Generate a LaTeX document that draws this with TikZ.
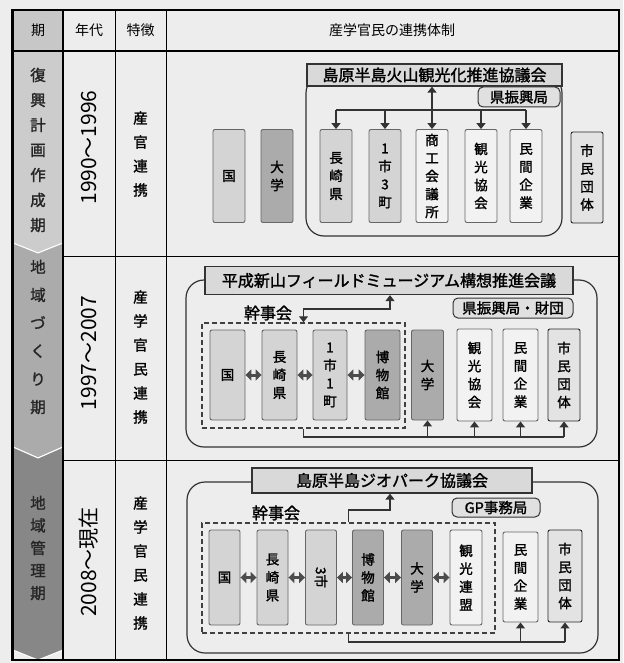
\documentclass[tikz,border=0pt]{standalone}
\usepackage{fontspec}
\newfontfamily\jp{Noto Sans CJK JP}
\newfontfamily\jpb{Noto Sans CJK JP}[FakeBold=1.6]
\usetikzlibrary{arrows.meta,calc}
\begin{document}
\begin{tikzpicture}[x=1pt,y=-1pt,
  box/.style={draw=black!60, line width=0.9pt, rounded corners=2pt, minimum width=32pt, minimum height=93pt, inner sep=0pt, align=center, font=\jpb\fontsize{13.5}{18}\selectfont},
  lt/.style={box, fill=black!17},
  dk/.style={box, fill=black!33},
  wh/.style={box, fill=black!5},
  cv/.style={box, fill=black!11, draw=black!85},
  ttl/.style={draw=black!80, line width=1.3pt, fill=black!15, inner sep=0pt, font=\jpb\fontsize{16}{16}\selectfont},
  sub/.style={draw=black!80, line width=1pt, fill=black!12, rounded corners=5pt, inner sep=0pt, font=\jpb\fontsize{14.5}{14.5}\selectfont},
  frm/.style={draw=black!80, line width=1.2pt, rounded corners=18pt},
  dsh/.style={draw=black!75, line width=1.5pt, dash pattern=on 5pt off 3pt, inner sep=0pt},
  ln/.style={line width=1.4pt, draw=black!80},
  arr/.style={-{Triangle[length=6pt,width=9pt]}, line width=1.4pt, draw=black!80},
  arr2/.style={{Triangle[length=6pt,width=9pt]}-{Triangle[length=6pt,width=9pt]}, line width=1.4pt, draw=black!80},
  dbl/.style={{Triangle[length=6pt,width=11pt]}-{Triangle[length=6pt,width=11pt]}, line width=3pt, draw=black!70},
  hd/.style={font=\jp\fontsize{14}{14}\selectfont},
  kan/.style={font=\jpb\fontsize{16}{16}\selectfont},
  per/.style={align=center, text=black!85},
  feat/.style={align=center, font=\jpb\fontsize{14.5}{24}\selectfont},
  yr/.style={rotate=90, font=\jp\fontsize{21}{21}\selectfont},
  chev/.style={draw=white, line width=1pt}
]
\useasboundingbox (0,0) rectangle (623,663);
\fill[black!7] (0,0) rectangle (623,663);

% period column chevrons
\fill[black!22] (13,10) rectangle (63,51);
\filldraw[chev, fill=black!20] (13,51) -- (63,51) -- (63,243) -- (38,253) -- (13,243) -- cycle;
\filldraw[chev, fill=black!33] (13,243) -- (38,253) -- (63,243) -- (63,447) -- (38,458) -- (13,447) -- cycle;
\filldraw[chev, fill=black!47] (13,447) -- (38,458) -- (63,447) -- (63,650) -- (38,660) -- (13,650) -- cycle;

% table lines
\draw[line width=1.5pt] (12,10) rectangle (619,660);
\draw[line width=2pt] (13,10) -- (13,660) (63,10) -- (63,660);
\draw[line width=0.8pt] (115,10) -- (115,660) (166,10) -- (166,660);
\draw[line width=1.3pt] (12,51) -- (619,51);
\draw[line width=1pt] (63,256) -- (619,256) (63,460) -- (619,460);

% header
\node[hd] (h1) at (38,30) {期};
\node[hd] (h2) at (89,30) {年代};
\node[hd] (h3) at (140.5,30) {特徴};
\node[hd] (h4) at (392,30) {産学官民の連携体制};

% period texts
\node[per, font=\jpb\fontsize{15.5}{25}\selectfont] (p1) at (38,150) {復\\興\\計\\画\\作\\成\\期};
\node[per, font=\jpb\fontsize{15.5}{28}\selectfont] (p2) at (38,337) {地\\域\\づ\\く\\り\\期};
\node[per, font=\jpb\fontsize{15.5}{22.5}\selectfont] (p3) at (38,548) {地\\域\\管\\理\\期};

% years
\node[yr] (y1) at (89,147.5) {1990〜1996};
\node[yr] (y2) at (89,353) {1997〜2007};
\node[yr] (y3) at (89,562) {2008〜現在};

% features
\node[feat] (f1) at (140.5,154) {産\\官\\連\\携};
\node[feat] (f2) at (140.5,357) {産\\学\\官\\民\\連\\携};
\node[feat] (f3) at (140.5,563) {産\\学\\官\\民\\連\\携};

% ---------- section 1 ----------
\draw[frm] (306,75) rectangle (562,236);
\node[ttl, minimum width=255pt, minimum height=22pt] (t1) at (434.5,75) {島原半島火山観光化推進協議会};
\node[sub, minimum width=82pt, minimum height=20pt] (g1) at (519,97) {県振興局};
\node[lt] (a1) at (229,176) {国};
\node[dk] (a2) at (277,176) {大\\学};
\node[lt] (a3) at (336,176) {長\\崎\\県};
\node[lt] (a4) at (385,176) {1\\市\\3\\町};
\node[wh] (a5) at (432,176) {商\\工\\会\\議\\所};
\node[wh] (a6) at (481,176) {観\\光\\協\\会};
\node[wh] (a7) at (526,176) {民\\間\\企\\業};
\node[cv, minimum height=91pt] (a8) at (587,177.5) {市\\民\\団\\体};
\coordinate (j1) at (432,110);
\draw[arr] (j1) -- (t1.south -| j1);
\draw[ln] (a3.north |- j1) -- (a7.north |- j1);
\foreach \n in {a3,a4,a5,a6,a7} \draw[arr] (\n.north |- j1) -- (\n.north);

% ---------- section 2 ----------
\draw[frm] (186,280) rectangle (597,447);
\node[ttl, minimum width=368pt, minimum height=28pt] (t2) at (389,280.5) {平成新山フィールドミュージアム構想推進会議};
\node[sub, minimum width=120pt, minimum height=20pt] (g2) at (513,308) {県振興局・財団};
\node[kan] (k2) at (268,313) {幹事会};
\node[dsh, minimum width=203pt, minimum height=105pt] (d2) at (303.5,375.5) {};
\node[lt, minimum width=35pt, minimum height=90pt] (b1) at (227.5,375) {国};
\node[lt, minimum width=35pt, minimum height=90pt] (b2) at (279.5,375) {長\\崎\\県};
\node[lt, minimum width=34pt, minimum height=90pt] (b3) at (330,375) {1\\市\\1\\町};
\node[dk, minimum width=35pt, minimum height=90pt] (b4) at (382.5,375) {博\\物\\館};
\node[dk, minimum width=32pt, minimum height=90pt] (b5) at (427.5,375) {大\\学};
\node[wh, minimum width=35pt, minimum height=92pt] (b6) at (474.5,375) {観\\光\\協\\会};
\node[wh, minimum width=35pt, minimum height=92pt] (b7) at (520.5,375) {民\\間\\企\\業};
\node[cv, minimum width=32pt, minimum height=92pt] (b8) at (564,375) {市\\民\\団\\体};
\draw[dbl] (b1.east) -- (b2.west);
\draw[dbl] (b2.east) -- (b3.west);
\draw[dbl] (b3.east) -- (b4.west);
\coordinate (c2) at (390,309);
\draw[arr2] (d2.north) |- (c2) -- (c2 |- t2.south);
\coordinate (e2) at (303.5,437);
\draw[ln] (d2.south) -- (e2) -- (e2 -| b8);
\foreach \n in {b5,b6,b7,b8} \draw[arr] (\n.south |- e2) -- (\n.south);

% ---------- section 3 ----------
\draw[frm] (187,482) rectangle (598,653);
\node[ttl, minimum width=280pt, minimum height=25pt] (t3) at (392,480.5) {島原半島ジオパーク協議会};
\node[sub, minimum width=88pt, minimum height=19pt] (g3) at (496,507.5) {GP事務局};
\node[kan] (k3) at (276,513) {幹事会};
\node[dsh, minimum width=293pt, minimum height=110pt] (d3) at (348.5,578) {};
\node[lt, minimum width=31pt, minimum height=95pt] (m1) at (224.5,577.5) {国};
\node[lt, minimum width=31pt, minimum height=95pt] (m2) at (272.5,577.5) {長\\崎\\県};
\node[lt, minimum width=31pt, minimum height=95pt] (m3) at (321,577.5) {\rotatebox{-90}{3市}};
\node[dk, minimum width=31pt, minimum height=95pt] (m4) at (368,577.5) {博\\物\\館};
\node[dk, minimum width=31pt, minimum height=95pt] (m5) at (417,577.5) {大\\学};
\node[wh, minimum width=32pt, minimum height=95pt] (m6) at (466,577.5) {観\\光\\連\\盟};
\node[wh, minimum width=35pt, minimum height=90pt] (m7) at (520.5,577) {民\\間\\企\\業};
\node[cv, minimum width=34pt, minimum height=92pt] (m8) at (565,576) {市\\民\\団\\体};
\draw[dbl] (m1.east) -- (m2.west);
\draw[dbl] (m2.east) -- (m3.west);
\draw[dbl] (m3.east) -- (m4.west);
\draw[dbl] (m4.east) -- (m5.west);
\draw[dbl] (m5.east) -- (m6.west);
\coordinate (c3) at (390,510);
\draw[arr] (d3.north) |- (c3) -- (c3 |- t3.south);
\coordinate (e3) at (348.5,642);
\draw[ln] (d3.south) -- (e3) -- (e3 -| m8);
\foreach \n in {m7,m8} \draw[arr] (\n.south |- e3) -- (\n.south);
\end{tikzpicture}
\end{document}
